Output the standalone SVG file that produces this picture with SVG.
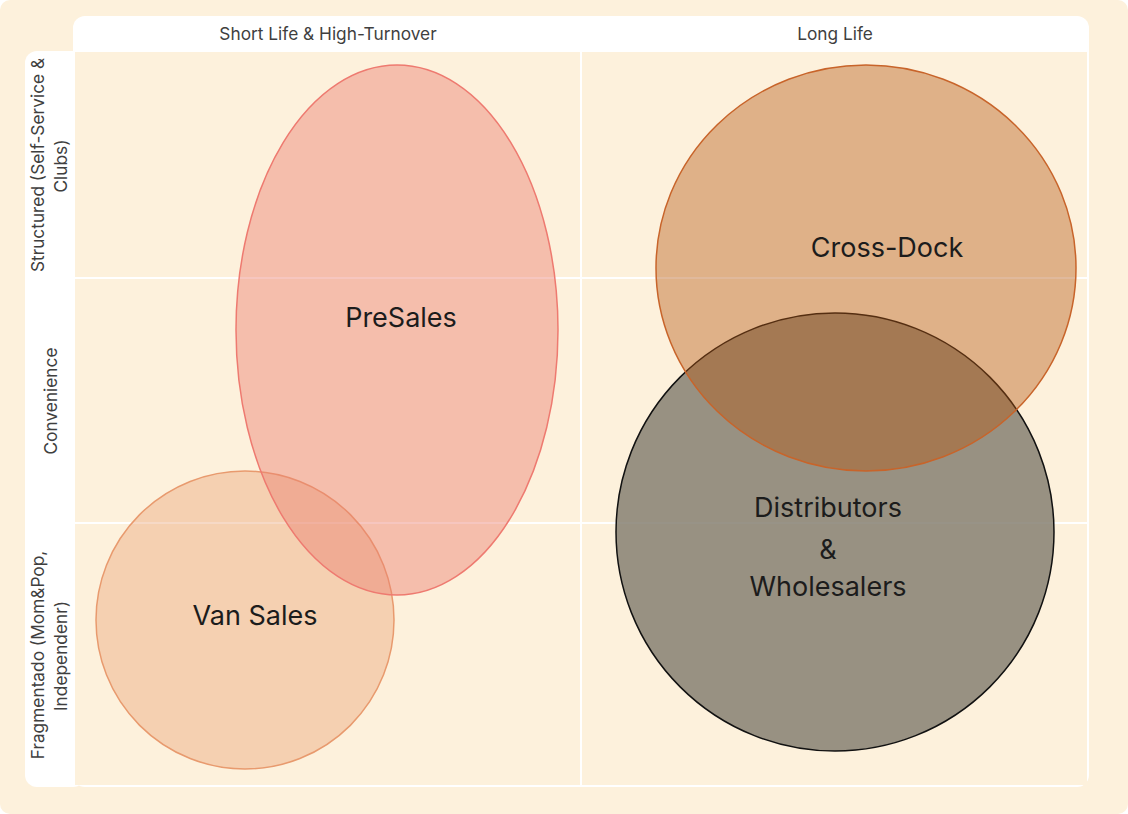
<svg xmlns="http://www.w3.org/2000/svg" width="1128" height="814" viewBox="0 0 1128 814">
<style>
.hdr{font-family:Inter,"Liberation Sans",sans-serif;font-size:17.3px;fill:#3f3f3f;text-anchor:middle}
.lbl{font-family:Inter,"Liberation Sans",sans-serif;font-size:27px;fill:#1c1c1c;text-anchor:middle}
.grid{stroke:#ffffff;stroke-width:2;fill:none}
</style>
<rect x="0" y="0" width="1128" height="814" rx="10" fill="#FDF1DC"/>
<g id="frame">
<rect x="73" y="16" width="1016" height="771" rx="12" fill="#ffffff"/>
<rect x="25" y="51" width="60" height="736" rx="12" fill="#ffffff"/>
<rect x="75" y="52" width="1012" height="733" fill="#FDF1DC"/>
<line class="grid" x1="75" y1="278" x2="1087" y2="278"/>
<line class="grid" x1="75" y1="523" x2="1087" y2="523"/>
<line class="grid" x1="581" y1="52" x2="581" y2="785"/>
</g>
<g id="headers">
<text class="hdr" x="328" y="40">Short Life &amp; High-Turnover</text>
<text class="hdr" x="835" y="40">Long Life</text>
<text class="hdr" transform="translate(44,165) rotate(-90)">Structured (Self-Service &amp;</text>
<text class="hdr" transform="translate(67,166) rotate(-90)">Clubs)</text>
<text class="hdr" transform="translate(57,401) rotate(-90)">Convenience</text>
<text class="hdr" transform="translate(44,655) rotate(-90)">Fragmentado (Mom&amp;Pop,</text>
<text class="hdr" transform="translate(67,656) rotate(-90)">Independenr)</text>
</g>
<g id="van-sales">
<circle cx="245" cy="620" r="149" fill="rgb(232,160,112)" fill-opacity="0.4" stroke="#E89A6E" stroke-width="1.5"/>
<text class="lbl" x="255" y="625">Van Sales</text>
</g>
<g id="presales">
<ellipse cx="397" cy="330" rx="161" ry="265" fill="rgb(236,128,112)" fill-opacity="0.45" stroke="#EE7A70" stroke-width="1.5"/>
<text class="lbl" x="401" y="327">PreSales</text>
</g>
<g id="distributors">
<circle cx="835" cy="532" r="219" fill="rgb(134,128,114)" fill-opacity="0.85" stroke="#111111" stroke-width="1.5"/>
<text class="lbl" x="828" y="517">Distributors</text>
<text class="lbl" x="828" y="559">&amp;</text>
<text class="lbl" x="828" y="596">Wholesalers</text>
</g>
<g id="cross-dock">
<ellipse cx="866" cy="268" rx="210" ry="203" fill="rgb(181,87,18)" fill-opacity="0.42" stroke="#C8642A" stroke-width="1.5"/>
<text class="lbl" x="887" y="257">Cross-Dock</text>
</g>
<g id="connectors"></g>
</svg>
